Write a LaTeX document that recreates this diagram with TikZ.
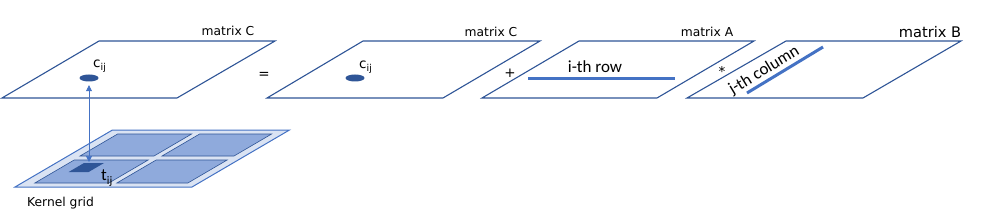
\documentclass[tikz,border=0pt]{standalone}
\usepackage{fontspec}
\setmainfont{DejaVu Sans}
\newfontfamily\calib{Carlito}
\usetikzlibrary{shapes.geometric,arrows.meta,calc}
\definecolor{dkblue}{RGB}{47,85,151}
\definecolor{mdblue}{RGB}{68,114,196}
\definecolor{ltblue}{RGB}{218,227,243}
\definecolor{cellblue}{RGB}{143,170,220}
\tikzset{
  plane/.style={draw=dkblue, line width=1.1pt, fill=white, line join=miter},
  mlabel/.style={font=\fontsize{12.3}{14}\selectfont, inner sep=0pt},
  blabel/.style={font=\calib\fontsize{17}{19}\selectfont, inner sep=0pt},
  opsym/.style={font=\fontsize{13.5}{15}\selectfont, inner sep=0pt},
  elem/.style={ellipse, fill=dkblue, draw=none, minimum width=19pt, minimum height=7pt, inner sep=0pt},
  vecline/.style={draw=mdblue, line width=3pt},
  cell/.style={draw=dkblue, line width=0.6pt, fill=cellblue},
}
\newcommand{\sublab}[2]{{\fontsize{13.5}{15}\selectfont #1}\raisebox{-3pt}{\fontsize{9.5}{11}\selectfont #2}}
\newcommand{\pgm}[4]{(#1,#3) -- (#2,#3) -- (#2,#4) -- (#1,#4) -- cycle}
\begin{document}
\begin{tikzpicture}[x=1pt,y=-1pt]
\useasboundingbox (0,0) rectangle (1000,219);
% planes
\draw[plane] (2,98) -- (177,98) -- (275,41) -- (99,41) -- cycle;
\draw[plane] (267,98) -- (443,98) -- (540,41) -- (363,41) -- cycle;
\draw[plane] (482,98) -- (657,98) -- (754,41) -- (579,41) -- cycle;
\draw[plane] (687,98) -- (863,98) -- (961,41) -- (786,41) -- cycle;
% labels
\node[mlabel] (lc1) at (228,31) {matrix C};
\node[mlabel] (lc2) at (491,32) {matrix C};
\node[mlabel] (la) at (707,32) {matrix A};
\node[mlabel, font=\fontsize{14.6}{16}\selectfont] (lb) at (930,32) {matrix B};
\node[opsym] (eq) at (264,75.5) {=};
\node[opsym] (plus) at (510,73) {+};
\node[opsym] (star) at (722,71) {*};
% elements
\node[elem] (e1) at (89,78) {};
\node[elem] (e2) at (355,78) {};
\node[inner sep=0pt, anchor=base west] (c1) at (93,68) {\sublab{c}{ij}};
\node[inner sep=0pt, anchor=base west] (c2) at (359,68.5) {\sublab{c}{ij}};
% row
\coordinate (r1) at (528,79);
\coordinate (r2) at (675,79);
\draw[vecline] (r1) -- (r2);
\node[blabel, anchor=base] (rowlab) at (595,73) {i-th row};
% column
\coordinate (k1) at (747,93);
\coordinate (k2) at (823,47);
\draw[vecline] (k1) -- (k2);
\node[blabel, anchor=south, rotate=31.2] (collab) at ($(k1)!0.5!(k2) + (-17,7)$) {j-th column};
% kernel grid
\begin{scope}[shift={(15pt,-187pt)}, x={(1pt,0pt)}, y={(1.71pt,1pt)}]
  \draw[fill=ltblue, draw=mdblue, line width=1pt] \pgm{0}{177}{0}{57};
  \draw[cell] \pgm{13}{87}{4}{27};
  \draw[cell] \pgm{95}{166}{4}{27};
  \draw[cell] \pgm{12}{86}{31}{53};
  \draw[cell] \pgm{94}{166}{31}{53};
  \fill[dkblue] \pgm{28}{48}{15}{24};
\end{scope}
\coordinate (ts) at (89,162);
\node[inner sep=0pt, anchor=base west] (tl) at (101,180) {{\calib\fontsize{17}{19}\selectfont t}\raisebox{-4pt}{\calib\fontsize{11.5}{12}\selectfont ij}};
\node[mlabel, anchor=base west] (kg) at (27,206) {Kernel grid};
\draw[draw=mdblue, line width=0.7pt, {Triangle[length=6pt,width=6pt]}-{Triangle[length=6pt,width=6pt]}, shorten <=3.5pt] (e1.south) -- (ts);
\end{tikzpicture}
\end{document}
